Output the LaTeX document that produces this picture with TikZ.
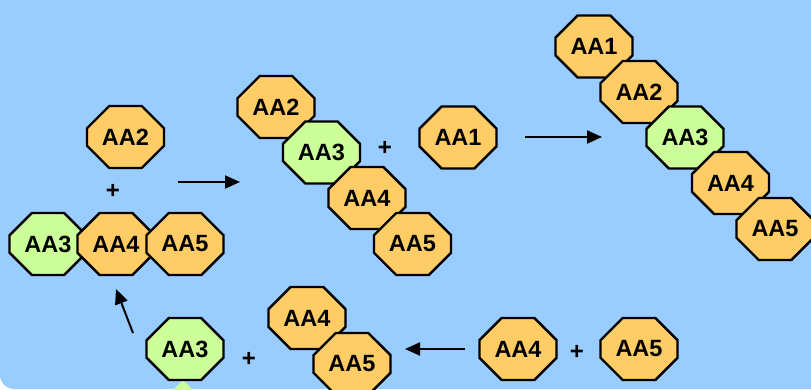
\documentclass[tikz,border=0pt]{standalone}
\usepackage{fontspec}
\setmainfont{Liberation Sans}
\usetikzlibrary{shapes.misc,arrows.meta}
\definecolor{bgblue}{HTML}{99CCFF}
\definecolor{aaorange}{HTML}{FFCC66}
\definecolor{aagreen}{HTML}{CCFF99}
\tikzset{
  oct/.style={chamfered rectangle, chamfered rectangle xsep=15pt, chamfered rectangle ysep=14pt,
    minimum width=77pt, minimum height=62pt, inner sep=0pt, draw=black, line width=2.4pt,
    font=\fontsize{23.5}{27}\selectfont\bfseries},
  orn/.style={oct, fill=aaorange},
  grn/.style={oct, fill=aagreen},
  plus/.style={font=\fontsize{24}{28}\selectfont\bfseries, inner sep=0pt},
  rxn/.style={line width=2pt, -{Triangle[length=15pt,width=13pt]}}
}
\begin{document}
\begin{tikzpicture}[x=1pt,y=1pt]
\useasboundingbox (0,0) rectangle (811,389);
\fill[white] (0,0) rectangle (811,389);
\fill[bgblue, rounded corners=14pt] (0,0) rectangle (840,420);
% partly hidden green shape at the bottom edge
\fill[aagreen] (183,9) -- (213,-21) -- (153,-21) -- cycle;
% left group
\node[orn] (l2) at (125.5,252) {AA2};
\node[plus] (lp) at (113,198) {+};
\node[grn] (l3) at (48,145) {AA3};
\node[orn] (l4) at (116,145) {AA4};
\node[orn] (l5) at (185,145) {AA5};
\coordinate (a1s) at (178,207);
\coordinate (a1e) at (240,207);
\draw[rxn] (a1s) -- (a1e);
% middle group
\node[orn] (m2) at (276,282) {AA2};
\node[grn] (m3) at (321.5,236.5) {AA3};
\node[orn] (m4) at (367,191) {AA4};
\node[orn] (m5) at (412.5,145) {AA5};
\node[plus] (mp) at (385,241) {+};
\node[orn] (m1) at (458,251.5) {AA1};
\coordinate (a2s) at (525,252);
\coordinate (a2e) at (602,252);
\draw[rxn] (a2s) -- (a2e);
% right group
\node[orn] (r1) at (594,342.5) {AA1};
\node[orn] (r2) at (639,297) {AA2};
\node[grn] (r3) at (685,251.5) {AA3};
\node[orn] (r4) at (730.5,206) {AA4};
\node[orn] (r5) at (775,160) {AA5};
% bottom group
\node[orn] (b4r) at (518,40) {AA4};
\node[plus] (bp2) at (577,37) {+};
\node[orn] (b5r) at (639,40) {AA5};
\coordinate (a3s) at (465,40);
\coordinate (a3e) at (405,40);
\draw[rxn] (a3s) -- (a3e);
\node[orn] (b4) at (307,71) {AA4};
\node[orn] (b5) at (352,25) {AA5};
\node[plus] (bp1) at (249,30) {+};
\node[grn] (b3) at (185,40) {AA3};
\coordinate (a4s) at (133,56);
\coordinate (a4e) at (116,100);
\draw[rxn] (a4s) -- (a4e);
\end{tikzpicture}
\end{document}
